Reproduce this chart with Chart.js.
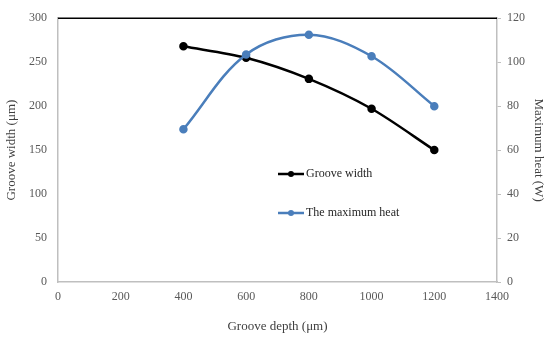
<!DOCTYPE html>
<html>
<head>
<meta charset="utf-8">
<script src="https://cdn.jsdelivr.net/npm/chart.js@4/dist/chart.umd.min.js"></script>
<style>
html,body{margin:0;padding:0;background:#fff;}
#wrap{width:550px;height:338px;}
</style>
</head>
<body>
<div id="wrap"><canvas id="c" width="550" height="338"></canvas></div>
<script>
// Data
const grooveDepth = [400, 600, 800, 1000, 1200];          // µm
const grooveWidth = [268, 255, 231, 197, 150];            // µm (left axis)
const maximumHeat = [69.5, 103.5, 112.5, 102.7, 80];      // W (right axis)
const xTicks = [0, 200, 400, 600, 800, 1000, 1200, 1400];
const seriesNames = ['Groove width', 'The maximum heat'];

const FONT = "'Liberation Serif', 'Times New Roman', serif";
const TICK_COLOR = '#595959';

const legendPlugin = {
  id: 'insideLegend',
  afterDraw(chart) {
    const ctx = chart.ctx;
    const items = [
      { ds: chart.data.datasets[1], y: 174 },
      { ds: chart.data.datasets[0], y: 213 }
    ];
    ctx.save();
    items.forEach(it => {
      ctx.strokeStyle = it.ds.borderColor;
      ctx.lineWidth = 2.5;
      ctx.beginPath();
      ctx.moveTo(278, it.y);
      ctx.lineTo(304, it.y);
      ctx.stroke();
      ctx.fillStyle = it.ds.pointBackgroundColor;
      ctx.beginPath();
      ctx.arc(291, it.y, 3, 0, Math.PI * 2);
      ctx.fill();
      ctx.fillStyle = '#262626';
      ctx.font = '12px ' + FONT;
      ctx.textBaseline = 'middle';
      ctx.textAlign = 'left';
      ctx.fillText(it.ds.label, 306, it.y);
    });
    ctx.restore();
  }
};

const topBorder = {
  id: 'topBorder',
  afterDraw(chart) {
    const a = chart.chartArea, ctx = chart.ctx;
    ctx.save();
    ctx.strokeStyle = '#000';
    ctx.lineWidth = 1.5;
    ctx.beginPath();
    ctx.moveTo(a.left, a.top);
    ctx.lineTo(a.right, a.top);
    ctx.stroke();
    ctx.restore();
  }
};

new Chart(document.getElementById('c'), {
  type: 'line',
  data: {
    datasets: [
      {
        label: seriesNames[1],
        data: grooveDepth.map((x, i) => ({ x, y: maximumHeat[i] })),
        yAxisID: 'y1',
        borderColor: '#4a7ebb',
        backgroundColor: '#4a7ebb',
        pointBackgroundColor: '#4a7ebb',
        pointBorderColor: '#4a7ebb',
        borderWidth: 2.5,
        pointRadius: 3,
        tension: 0.35,
        order: 0
      },
      {
        label: seriesNames[0],
        data: grooveDepth.map((x, i) => ({ x, y: grooveWidth[i] })),
        yAxisID: 'y',
        borderColor: '#000000',
        backgroundColor: '#000000',
        pointBackgroundColor: '#000000',
        pointBorderColor: '#000000',
        borderWidth: 2.5,
        pointRadius: 3,
        tension: 0.3,
        order: 1
      }
    ]
  },
  options: {
    responsive: false,
    animation: false,
    layout: { padding: { top: 11, left: 0, right: 0, bottom: 0 } },
    plugins: { legend: { display: false }, tooltip: { enabled: false } },
    scales: {
      x: {
        type: 'linear',
        min: 0, max: 1400,
        afterBuildTicks(s) { s.ticks = xTicks.map(v => ({ value: v })); },
        afterFit(s) { s.height = 56; },
        grid: { display: false, drawTicks: false },
        border: { display: true, color: '#bfbfbf', width: 1.5 },
        ticks: { color: TICK_COLOR, font: { family: FONT, size: 12 }, padding: 8, maxRotation: 0, callback: v => String(v) },
        title: { display: true, text: 'Groove depth (μm)', color: '#404040', font: { family: FONT, size: 13 }, padding: 4 }
      },
      y: {
        position: 'left',
        min: 0, max: 300,
        ticks: { stepSize: 50, color: TICK_COLOR, font: { family: FONT, size: 12 }, padding: 11 },
        afterFit(s) { s.width = 58; },
        grid: { display: false, drawTicks: false },
        border: { display: true, color: '#bfbfbf', width: 1.5 },
        title: { display: true, text: 'Groove width (μm)', color: '#404040', font: { family: FONT, size: 13 }, padding: 4 }
      },
      y1: {
        position: 'right',
        min: 0, max: 120,
        afterFit(s) { s.width = 53; },
        ticks: {
          stepSize: 4, autoSkip: false,
          color: TICK_COLOR, font: { family: FONT, size: 12 }, padding: 6,
          callback: v => (v % 20 === 0 ? String(v) : null)
        },
        grid: { drawOnChartArea: false, drawTicks: true, tickLength: 4, color: '#bfbfbf' },
        border: { display: true, color: '#bfbfbf', width: 1.5 },
        title: { display: true, text: 'Maximum heat (W)', color: '#404040', font: { family: FONT, size: 13 }, padding: 4 }
      }
    }
  },
  plugins: [legendPlugin, topBorder]
});
</script>
</body>
</html>
